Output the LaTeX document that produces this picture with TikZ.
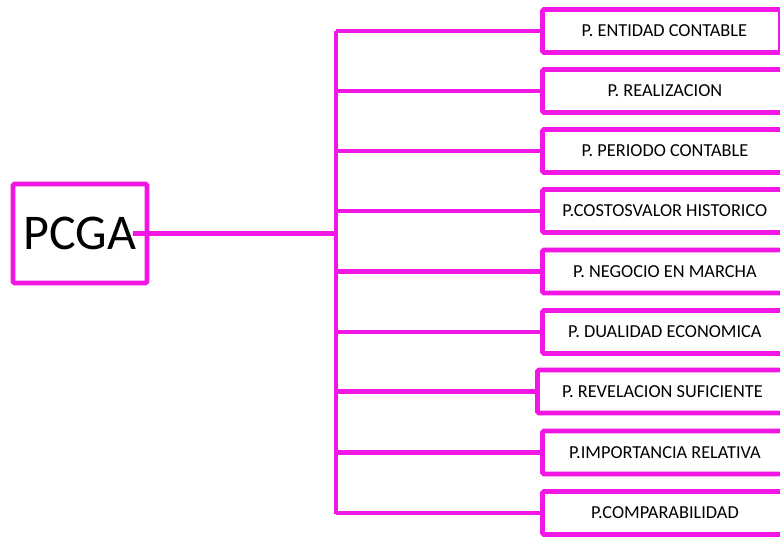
\documentclass[tikz,border=0pt]{standalone}
\usepackage{fontspec}
\setmainfont{Carlito}
\definecolor{mag}{RGB}{242,22,228}
\begin{document}
\begin{tikzpicture}[x=1pt,y=1pt,
  link/.style={draw=mag,line width=4.8pt},
  leaf/.style={draw=mag,line width=4.8pt,rounded corners=1.5pt,minimum width=245pt,minimum height=43pt,anchor=west,inner sep=0pt,font=\fontsize{18.3}{21}\selectfont,text=black},
  root/.style={draw=mag,line width=4.8pt,rounded corners=1.5pt,minimum width=134pt,minimum height=99pt,inner sep=0pt,font=\fontsize{50}{56}\selectfont,text=black}]
\useasboundingbox (0,0) rectangle (780,-538);
\clip (0,0) rectangle (780,-538);
\fill[white] (0,0) rectangle (780,-538);
\node[root] (pcga) at (80,-233.5) {PCGA};
\coordinate (ttop) at (336,-31);
\coordinate (tbot) at (336,-514);
\coordinate (tmid) at (336,-233.5);
\coordinate (pstart) at (133,-233.5);
\draw[link] (ttop) -- (tbot);
\draw[link] (pstart) -- (tmid);
\node[leaf,minimum width=238pt] (b1) at (540,-31) {\hspace*{6pt}P. ENTIDAD CONTABLE};
\node[leaf] (b2) at (540,-91) {P. REALIZACION};
\node[leaf] (b3) at (540,-151) {P. PERIODO CONTABLE};
\node[leaf] (b4) at (540,-211) {P.COSTOSVALOR HISTORICO};
\node[leaf] (b5) at (540,-271.5) {P. NEGOCIO EN MARCHA};
\node[leaf] (b6) at (540,-332) {P. DUALIDAD ECONOMICA};
\node[leaf,minimum width=250pt] (b7) at (535,-391.5) {P. REVELACION SUFICIENTE};
\node[leaf] (b8) at (540,-452.5) {P.IMPORTANCIA RELATIVA};
\node[leaf] (b9) at (540,-513) {P.COMPARABILIDAD};
\foreach \b in {b1,b2,b3,b4,b5,b6,b7,b8,b9}
  \draw[link] (ttop |- \b.west) -- (\b.west);
\end{tikzpicture}
\end{document}
